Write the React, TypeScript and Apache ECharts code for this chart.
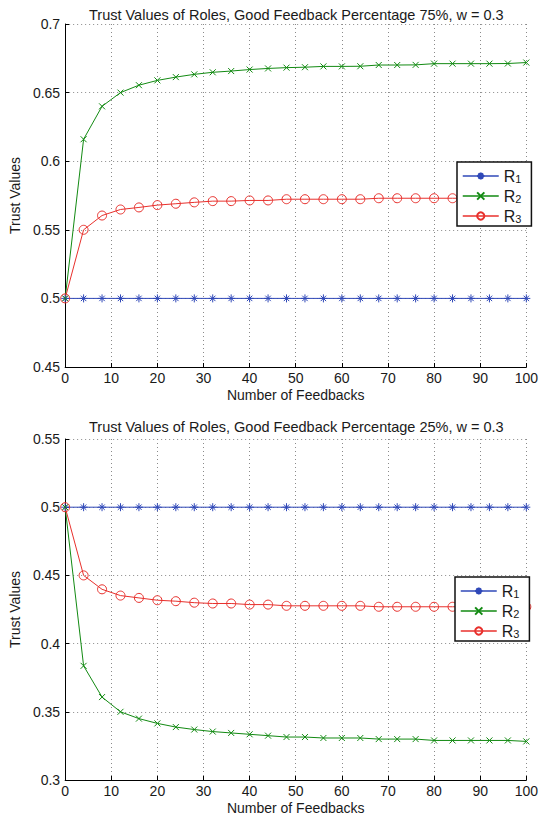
import React, { useEffect, useRef } from "react";
import * as echarts from "echarts";

const feedbacks = [0, 4, 8, 12, 16, 20, 24, 28, 32, 36, 40, 44, 48, 52, 56, 60, 64, 68, 72, 76, 80, 84, 88, 92, 96, 100];

const topR1 = [0.5, 0.5, 0.5, 0.5, 0.5, 0.5, 0.5, 0.5, 0.5, 0.5, 0.5, 0.5, 0.5, 0.5, 0.5, 0.5, 0.5, 0.5, 0.5, 0.5, 0.5, 0.5, 0.5, 0.5, 0.5, 0.5];
const topR2 = [0.5, 0.616, 0.64, 0.65, 0.6554, 0.6589, 0.6613, 0.6633, 0.6648, 0.6657, 0.6668, 0.6676, 0.6682, 0.6685, 0.6691, 0.6691, 0.6692, 0.6701, 0.6701, 0.6702, 0.6711, 0.6711, 0.6711, 0.6711, 0.6712, 0.6719];
const topR3 = [0.5, 0.55, 0.5604, 0.5648, 0.5663, 0.568, 0.569, 0.57, 0.5709, 0.5709, 0.5714, 0.5714, 0.5723, 0.5723, 0.5723, 0.5723, 0.5723, 0.573, 0.573, 0.573, 0.573, 0.573, 0.573, 0.573, 0.573, 0.573];

const botR1 = [0.5, 0.5, 0.5, 0.5, 0.5, 0.5, 0.5, 0.5, 0.5, 0.5, 0.5, 0.5, 0.5, 0.5, 0.5, 0.5, 0.5, 0.5, 0.5, 0.5, 0.5, 0.5, 0.5, 0.5, 0.5, 0.5];
const botR2 = [0.5, 0.3837, 0.3608, 0.35, 0.345, 0.3415, 0.3388, 0.337, 0.3355, 0.3345, 0.3335, 0.3325, 0.3315, 0.3315, 0.3308, 0.3308, 0.3308, 0.33, 0.33, 0.33, 0.329, 0.329, 0.329, 0.329, 0.329, 0.3283];
const botR3 = [0.5, 0.45, 0.4398, 0.4352, 0.4335, 0.4318, 0.4311, 0.43, 0.4294, 0.4294, 0.4286, 0.4286, 0.4277, 0.4277, 0.4277, 0.4277, 0.4277, 0.427, 0.427, 0.427, 0.427, 0.427, 0.427, 0.427, 0.427, 0.427];

const titles = [
  "Trust Values of Roles, Good Feedback Percentage 75%, w = 0.3",
  "Trust Values of Roles, Good Feedback Percentage 25%, w = 0.3",
];
const seriesNames = ["R1", "R2", "R3"];
const xLabel = "Number of Feedbacks";
const yLabel = "Trust Values";

const BLUE = "#2f48b8";
const GREEN = "#128a12";
const RED = "#e8302c";
const TEXT = "#1a1a1a";
const FONT = "'Liberation Sans', Arial, Helvetica, sans-serif";

const STAR = "path://M5 0L5 10M0 5L10 5M1.6 1.6L8.4 8.4M1.6 8.4L8.4 1.6";
const CROSS = "path://M0 0L10 10M0 10L10 0";

export default function App() {
  const ref = useRef<HTMLDivElement>(null);
  useEffect(() => {
    if (!ref.current) return;
    const chart = echarts.init(ref.current, undefined, { renderer: "svg" });

    const pairs = (vals: number[]) => feedbacks.map((x, i) => [x, vals[i]]);
    const mk = (name: string, vals: number[], idx: number, color: string, symbol: string, size: number) => ({
      type: "line",
      name,
      xAxisIndex: idx,
      yAxisIndex: idx,
      data: pairs(vals),
      symbol,
      symbolSize: size,
      showAllSymbol: true,
      color,
      lineStyle: { color, width: 1 },
      itemStyle: { color: "rgba(0,0,0,0)", borderColor: color, borderWidth: 1 },
      emphasis: { disabled: true },
    });

    const grids = [
      { left: 64, right: 9, top: 24, height: 343 },
      { left: 63, right: 10, top: 439, height: 341 },
    ];
    const yRanges = [
      [0.45, 0.7],
      [0.3, 0.55],
    ];

    const xAxes = grids.map((_, i) => ({
      type: "value",
      gridIndex: i,
      min: 0,
      max: 100,
      interval: 10,
      name: xLabel,
      nameLocation: "middle",
      nameGap: 21,
      nameTextStyle: { color: TEXT, fontSize: 14, fontFamily: FONT },
      axisLine: { show: true, lineStyle: { color: "#000", width: 1 } },
      axisTick: { show: true, inside: true, length: 4, lineStyle: { color: "#000" } },
      axisLabel: { color: TEXT, fontSize: 14, fontFamily: FONT, margin: 4 },
      splitLine: { show: true, lineStyle: { color: "#8a8a8a", type: [1, 3], width: 1 } },
    }));
    const yAxes = grids.map((_, i) => ({
      type: "value",
      gridIndex: i,
      min: yRanges[i][0],
      max: yRanges[i][1],
      interval: 0.05,
      name: yLabel,
      nameLocation: "middle",
      nameGap: 36,
      nameTextStyle: { color: TEXT, fontSize: 14, fontFamily: FONT },
      axisLine: { show: true, lineStyle: { color: "#000", width: 1 } },
      axisTick: { show: true, inside: true, length: 4, lineStyle: { color: "#000" } },
      axisLabel: {
        color: TEXT,
        fontSize: 14,
        fontFamily: FONT,
        margin: 5,
        formatter: (v: number) => String(+v.toFixed(2)),
      },
      splitLine: { show: true, lineStyle: { color: "#8a8a8a", type: [1, 3], width: 1 } },
    }));

    const legendCommon = {
      orient: "vertical",
      data: seriesNames,
      backgroundColor: "#fff",
      borderColor: "#111",
      borderWidth: 1.5,
      borderRadius: 0,
      padding: [3, 10, 2, 5],
      itemWidth: 36,
      itemHeight: 9,
      itemGap: 1,
      selectedMode: false,
      lineStyle: { width: 1.5 },
      formatter: (name: string) => `{r|R}{s|${name.slice(1)}}`,
      textStyle: {
        color: TEXT,
        fontFamily: FONT,
        rich: {
          r: { fontSize: 16, fontFamily: FONT, color: TEXT, lineHeight: 16, verticalAlign: "top" },
          s: { fontSize: 11, fontFamily: FONT, color: TEXT, lineHeight: 12, verticalAlign: "bottom", padding: [8, 0, 0, 0] },
        },
      },
    };

    chart.setOption({
      animation: false,
      backgroundColor: "#fff",
      title: [
        { text: titles[0], left: 84, top: 2, textStyle: { fontSize: 14.5, fontWeight: "normal", color: TEXT, fontFamily: FONT } },
        { text: titles[1], left: 84, top: 414, textStyle: { fontSize: 14.5, fontWeight: "normal", color: TEXT, fontFamily: FONT } },
      ],
      legend: [
        { ...legendCommon, left: 457, top: 162 },
        { ...legendCommon, left: 455, top: 577 },
      ],
      grid: grids,
      xAxis: xAxes,
      yAxis: yAxes,
      series: [
        mk("R1", topR1, 0, BLUE, STAR, 8),
        mk("R2", topR2, 0, GREEN, CROSS, 6),
        mk("R3", topR3, 0, RED, "circle", 9),
        mk("R1", botR1, 1, BLUE, STAR, 8),
        mk("R2", botR2, 1, GREEN, CROSS, 6),
        mk("R3", botR3, 1, RED, "circle", 9),
      ],
    });
    return () => chart.dispose();
  }, []);
  return (
    <div
      ref={ref}
      style={{ position: "fixed", left: 0, top: 0, width: 541, height: 820, background: "#fff" }}
    />
  );
}
